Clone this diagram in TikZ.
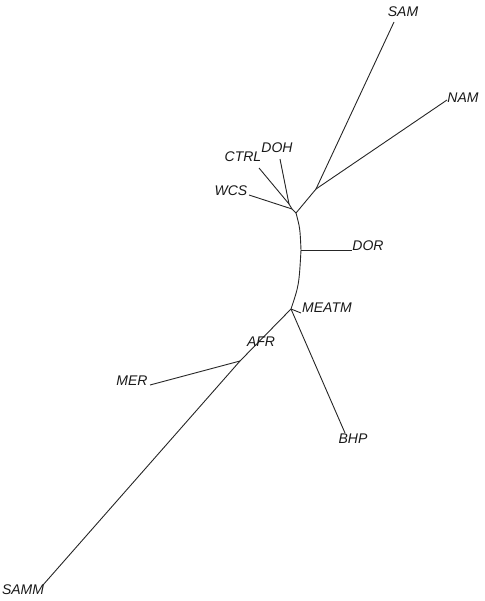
\documentclass[tikz,border=0pt]{standalone}
\usepackage{fontspec}
\setmainfont{Liberation Sans}
\tikzset{
  branche/.style={draw=black!85, line width=0.9pt},
  taxon/.style={inner sep=0pt, font=\fontsize{14}{16}\selectfont\itshape, text=black!90}
}
\begin{document}
\begin{tikzpicture}[x=1pt,y=-1pt]

\useasboundingbox (0,0) rectangle (484,601);

% Noeuds internes
\coordinate (n1) at (289,204);
\coordinate (n2) at (292,209);
\coordinate (n3) at (296,213);
\coordinate (n4) at (316,189);
\coordinate (n5) at (301,250);
\coordinate (n6) at (291,309);
\coordinate (n8) at (240,361);

% Extremites des branches
\coordinate (tsam) at (394,22);
\coordinate (tnam) at (447,100);
\coordinate (tdoh) at (280,159);
\coordinate (tctrl) at (259,168);
\coordinate (twcs) at (249,195);
\coordinate (tdor) at (352,250);
\coordinate (tmeatm) at (301,313);
\coordinate (tbhp) at (345,433);
\coordinate (tmer) at (150,385);
\coordinate (tsamm) at (43,585);

% Groupe du haut
\draw[branche]
(n1) -- (tdoh);
\draw[branche]
(n1) -- (tctrl);
\draw[branche]
(n2) -- (twcs);
\draw[branche]
(n2) -- (n1);
\draw[branche]
(n3) -- (n2);
\draw[branche]
(n3) -- (n4);
\draw[branche]
(n4) -- (tsam);
\draw[branche]
(n4) -- (tnam);

% Tronc
\draw[branche]
(n3)
.. controls (300,228) ..
(n5)
.. controls (299,285) ..
(n6);
\draw[branche]
(n5) -- (tdor);

% Groupe du bas
\draw[branche]
(n6) -- (tmeatm);
\draw[branche]
(n6) -- (tbhp);
\draw[branche]
(n6) -- (n8);
\draw[branche]
(n8) -- (tmer);
\draw[branche]
(n8) -- (tsamm);

% Etiquettes
\node[taxon] (sam) at (403,12) {SAM};
\node[taxon] (nam) at (463,98) {NAM};
\node[taxon] (doh) at (277,148) {DOH};
\node[taxon] (ctrl) at (243,157) {CTRL};
\node[taxon] (wcs) at (231,191) {WCS};
\node[taxon] (dor) at (368,246) {DOR};
\node[taxon] (meatm) at (327,308) {MEATM};
\node[taxon] (afr) at (261,342) {AFR};
\node[taxon] (mer) at (132,381) {MER};
\node[taxon] (bhp) at (353,439) {BHP};
\node[taxon] (samm) at (23,590) {SAMM};

\end{tikzpicture}
\end{document}
